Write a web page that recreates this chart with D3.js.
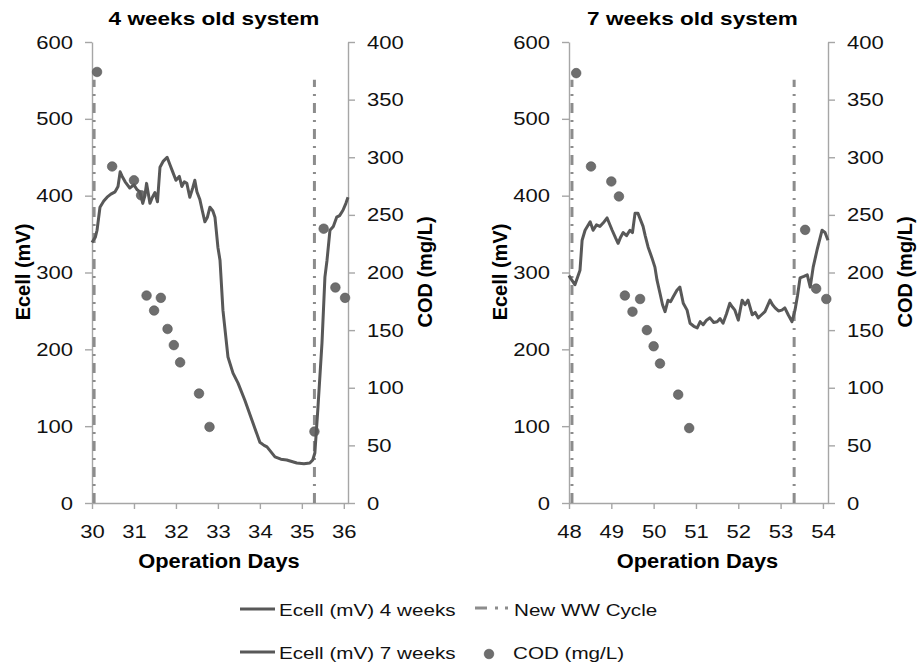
<!DOCTYPE html>
<html>
<head>
<meta charset="utf-8">
<script src="https://cdn.jsdelivr.net/npm/d3@7"></script>
<style>
  body { margin: 0; background: #fff; }
  svg { font-family: "Liberation Sans", Arial, sans-serif; }
</style>
</head>
<body>
<div id="chart"></div>
<script>
// Ecell (mV) - 4 weeks old system
var days4 = [30.0, 30.08, 30.12, 30.19, 30.28, 30.36, 30.45, 30.55, 30.62, 30.67, 30.72, 30.79, 30.9, 31.0, 31.07, 31.14, 31.21, 31.26, 31.3, 31.38, 31.44, 31.5, 31.56, 31.62, 31.7, 31.79, 31.86, 31.93, 32.0, 32.08, 32.14, 32.2, 32.26, 32.33, 32.4, 32.45, 32.5, 32.57, 32.63, 32.69, 32.75, 32.81, 32.88, 32.93, 33.0, 33.05, 33.12, 33.24, 33.36, 33.48, 33.64, 33.81, 34.0, 34.1, 34.17, 34.36, 34.5, 34.64, 34.88, 35.05, 35.19, 35.26, 35.31, 35.38, 35.48, 35.55, 35.6, 35.67, 35.75, 35.83, 35.9, 35.98, 36.05, 36.1];
var ecell4 = [339, 346, 355, 385, 393, 398, 402, 405, 412, 431, 425, 418, 410, 414, 408, 405, 390, 400, 416, 390, 398, 404, 392, 437, 445, 450, 440, 430, 420, 425, 412, 418, 416, 398, 410, 420, 405, 395, 380, 366, 372, 385, 380, 372, 333, 316, 251, 190, 169, 156, 134, 108, 79, 75, 73, 60, 57, 56, 52, 51, 52, 56, 65, 121, 208, 294, 316, 355, 360, 372, 374, 381, 390, 398];

// Ecell (mV) - 7 weeks old system
var days7 = [48.0, 48.02, 48.14, 48.26, 48.31, 48.38, 48.5, 48.57, 48.65, 48.73, 48.8, 48.9, 49.02, 49.1, 49.16, 49.22, 49.28, 49.36, 49.44, 49.5, 49.56, 49.63, 49.75, 49.8, 49.87, 49.96, 50.03, 50.08, 50.15, 50.21, 50.27, 50.34, 50.4, 50.46, 50.55, 50.62, 50.7, 50.79, 50.86, 50.95, 51.03, 51.1, 51.17, 51.25, 51.33, 51.42, 51.5, 51.57, 51.64, 51.72, 51.8, 51.86, 51.92, 52.0, 52.09, 52.16, 52.23, 52.33, 52.4, 52.47, 52.55, 52.63, 52.75, 52.81, 52.87, 52.95, 53.03, 53.1, 53.18, 53.27, 53.34, 53.4, 53.46, 53.55, 53.63, 53.7, 53.77, 53.86, 53.98, 54.05, 54.12];
var ecell7 = [296, 294, 284, 303, 342, 355, 366, 355, 362, 360, 364, 371, 355, 345, 338, 346, 352, 348, 355, 352, 377, 377, 360, 348, 333, 319, 307, 290, 273, 258, 249, 264, 262, 268, 277, 281, 260, 251, 234, 230, 228, 236, 232, 238, 241, 235, 236, 240, 234, 246, 260, 255, 251, 238, 264, 258, 264, 245, 248, 241, 245, 249, 264, 258, 254, 250, 251, 254, 245, 236, 251, 270, 293, 295, 297, 281, 307, 329, 355, 352, 342];

// COD (mg/L) samples
var codDays4 = [30.12, 30.48, 31.0, 31.17, 31.3, 31.48, 31.64, 31.8, 31.95, 32.1, 32.55, 32.8, 35.3, 35.52, 35.8, 36.03];
var cod4 = [374, 292, 280, 267, 180, 167, 178, 151, 137, 122, 95, 66, 62, 238, 187, 178];
var codDays7 = [48.17, 48.52, 49.0, 49.18, 49.32, 49.5, 49.68, 49.84, 50.0, 50.15, 50.58, 50.84, 53.58, 53.84, 54.08];
var cod7 = [373, 292, 279, 266, 180, 166, 177, 150, 136, 121, 94, 65, 237, 186, 177];

// new wastewater cycle markers
var cycles4 = [30.05, 35.3];
var cycles7 = [48.07, 53.32];

var ecellTicks = [0, 100, 200, 300, 400, 500, 600];
var codTicks = [0, 50, 100, 150, 200, 250, 300, 350, 400];

var W = 918, H = 668;
var svg = d3.select("#chart").append("svg").attr("width", W).attr("height", H);

var lineCol = "#585858", axisCol = "#a6a6a6", dotCol = "#6e6e6e", cycCol = "#8c8c8c";

// the source picture is drawn a bit wide, so widen text to match
function stretch(sel, f) {
  sel.each(function() {
    var L = this.getComputedTextLength();
    d3.select(this).attr("textLength", L * f).attr("lengthAdjust", "spacingAndGlyphs");
  });
}

function panel(opt) {
  var x = d3.scaleLinear().domain(opt.xdom).range([opt.left, opt.right]);
  var y = d3.scaleLinear().domain([0, 600]).range([503, 42]);
  var y2 = d3.scaleLinear().domain([0, 400]).range([503, 42]);
  var g = svg.append("g");

  var ax = g.append("g").attr("transform", "translate(0,503)")
    .call(d3.axisBottom(x).tickValues(opt.xticks).tickFormat(d3.format("d"))
      .tickSize(6).tickSizeOuter(0).tickPadding(11));
  var al = g.append("g").attr("transform", "translate(" + opt.left + ",0)")
    .call(d3.axisLeft(y).tickValues(ecellTicks).tickSize(7).tickSizeOuter(0).tickPadding(12));
  var ar = g.append("g").attr("transform", "translate(" + opt.right + ",0)")
    .call(d3.axisRight(y2).tickValues(codTicks).tickSize(7).tickSizeOuter(0).tickPadding(12));
  [ax, al, ar].forEach(function(a) {
    a.selectAll("path, line").attr("stroke", axisCol).attr("stroke-width", 1.4);
    a.selectAll("text").attr("font-size", 19).attr("fill", "#111")
      .attr("font-family", "Liberation Sans, Arial, sans-serif");
    stretch(a.selectAll("text"), 1.16);
  });
  ax.selectAll("text").attr("dy", "0.95em");

  // cycle markers
  g.selectAll(".cyc").data(opt.cycles).enter().append("line")
    .attr("x1", function(d) { return x(d); }).attr("x2", function(d) { return x(d); })
    .attr("y1", y(0)).attr("y2", y(551))
    .attr("stroke", cycCol).attr("stroke-width", 3)
    .attr("stroke-dasharray", "10,7,2,7");

  // COD dots
  g.selectAll(".cod").data(opt.codDays).enter().append("circle")
    .attr("cx", function(d) { return x(d); })
    .attr("cy", function(d, i) { return y2(opt.cod[i]); })
    .attr("r", 4.8).attr("fill", dotCol).attr("stroke", "#555").attr("stroke-width", 0.6);

  // Ecell line
  var pts = opt.days.map(function(d, i) { return [d, opt.ecell[i]]; });
  g.append("path").datum(pts)
    .attr("fill", "none").attr("stroke", lineCol).attr("stroke-width", 3)
    .attr("stroke-linejoin", "round")
    .attr("d", d3.line().x(function(d) { return x(d[0]); }).y(function(d) { return y(d[1]); }));

  var t = g.append("text").attr("x", (opt.left + opt.right) / 2 - 6).attr("y", 25)
    .attr("text-anchor", "middle").attr("font-weight", "bold").attr("font-size", 18.5)
    .text(opt.title);
  stretch(t, 1.22);
  var o = g.append("text").attr("x", (opt.left + opt.right) / 2 - 1).attr("y", 568)
    .attr("text-anchor", "middle").attr("font-weight", "bold").attr("font-size", 19.5)
    .text("Operation Days");
  stretch(o, 1.12);
  g.append("text").attr("transform", "translate(" + (opt.left - 62) + ",272) rotate(-90)")
    .attr("text-anchor", "middle").attr("font-weight", "bold").attr("font-size", 20)
    .text("Ecell (mV)");
  g.append("text").attr("transform", "translate(" + (opt.right + 84) + ",272) rotate(-90)")
    .attr("text-anchor", "middle").attr("font-weight", "bold").attr("font-size", 20)
    .text("COD (mg/L)");
}

panel({ left: 92, right: 348, xdom: [30, 36.1], xticks: [30, 31, 32, 33, 34, 35, 36],
  days: days4, ecell: ecell4, codDays: codDays4, cod: cod4, cycles: cycles4, title: "4 weeks old system" });
panel({ left: 569, right: 828, xdom: [48, 54.12], xticks: [48, 49, 50, 51, 52, 53, 54],
  days: days7, ecell: ecell7, codDays: codDays7, cod: cod7, cycles: cycles7, title: "7 weeks old system" });

// legend
var leg = svg.append("g").attr("font-size", 16.5).attr("fill", "#111");
leg.append("line").attr("x1", 240).attr("x2", 275).attr("y1", 609).attr("y2", 609)
  .attr("stroke", lineCol).attr("stroke-width", 3);
leg.append("line").attr("x1", 240).attr("x2", 275).attr("y1", 652).attr("y2", 652)
  .attr("stroke", lineCol).attr("stroke-width", 3);
leg.append("line").attr("x1", 475).attr("x2", 511).attr("y1", 608).attr("y2", 608)
  .attr("stroke", cycCol).attr("stroke-width", 3).attr("stroke-dasharray", "12,8,3,7,3,30");
leg.append("circle").attr("cx", 489).attr("cy", 654).attr("r", 4.8)
  .attr("fill", dotCol).attr("stroke", "#555").attr("stroke-width", 0.6);
var lt = [
  leg.append("text").attr("x", 279).attr("y", 616).text("Ecell (mV) 4 weeks"),
  leg.append("text").attr("x", 279).attr("y", 659).text("Ecell (mV) 7 weeks"),
  leg.append("text").attr("x", 514).attr("y", 616).text("New WW Cycle"),
  leg.append("text").attr("x", 513).attr("y", 659).text("COD (mg/L)")
];
lt.forEach(function(s) { stretch(s, 1.25); });
</script>
</body>
</html>
